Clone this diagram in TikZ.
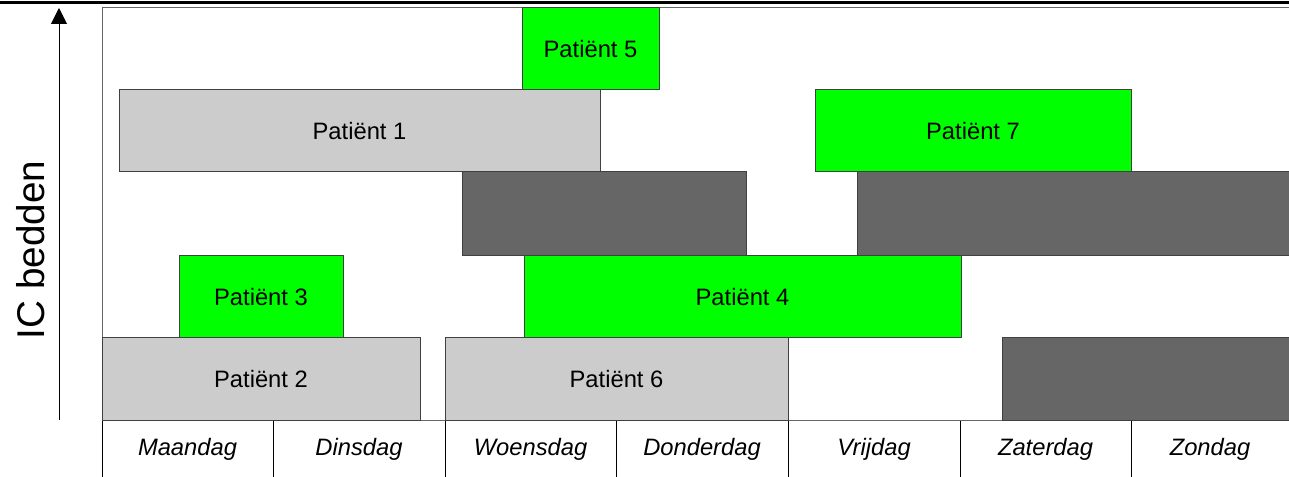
\documentclass[tikz,border=0pt]{standalone}
\usepackage{fontspec}
\setmainfont{Liberation Sans}
\usetikzlibrary{arrows.meta, positioning, fit}
\definecolor{bedgreen}{RGB}{0,255,0}
\definecolor{bedgrey}{RGB}{204,204,204}
\definecolor{beddark}{RGB}{102,102,102}
\tikzset{
    bar/.style={draw=black!75, line width=0.75pt, inner sep=0pt},
    patient/.style={bar, fill=bedgreen},
    planned/.style={bar, fill=bedgrey},
    blocked/.style={bar, fill=beddark},
    day/.style={font=\fontsize{17.8}{20}\selectfont\itshape},
}
\begin{document}
\begin{tikzpicture}[x=0.75pt, y=-0.75pt, font=\fontsize{17.8}{20}\selectfont]
    \useasboundingbox (0,0) rectangle (1289,477);

    % frame
    \draw[line width=2.4pt] (0,2.5) -- (1289,2.5);
    \draw[black!60, line width=0.75pt] (1292,8) -- (102,8) -- (102,420) -- (1292,420);

    % beds
    \node[patient, fit={(522,8) (659,90)}, label=center:Patiënt 5] (p5) {};
    \node[planned, fit={(119,90) (600,172)}, label=center:Patiënt 1] (p1) {};
    \node[patient, fit={(815,90) (1131,172)}, label=center:Patiënt 7] (p7) {};
    \node[blocked, fit={(462,172) (746,256)}] (b1) {};
    \node[blocked, fit={(857,172) (1292,256)}] (b2) {};
    \node[patient, fit={(179,256) (343,338)}, label=center:Patiënt 3] (p3) {};
    \node[patient, fit={(524,256) (961,338)}, label=center:Patiënt 4] (p4) {};
    \node[planned, fit={(102,338) (420,420)}, label=center:Patiënt 2] (p2) {};
    \node[planned, fit={(445,338) (788,420)}, label=center:Patiënt 6] (p6) {};
    \node[blocked, fit={(1002,338) (1292,420)}] (b3) {};

    % days
    \foreach \x in {102,273,445,616,788,960,1131}
      \draw[line width=0.75pt] (\x,421) -- (\x,477);
    \foreach \d/\x [count=\i] in {Maandag/187.5, Dinsdag/359, Woensdag/530.5, Donderdag/702,
                                  Vrijdag/874, Zaterdag/1045.5, Zondag/1210}
      \node[day] (d\i) at (\x,449) {\d};

    % axis
    \coordinate (ybot) at (59,420);
    \coordinate (ytop) at (59,8);
    \draw[line width=0.75pt, -{Triangle[width=12pt, length=12pt]}] (ybot) -- (ytop);
    \node[rotate=90, font=\fontsize{29}{32}\selectfont] (ylabel) at (31,250) {IC bedden};
\end{tikzpicture}
\end{document}
